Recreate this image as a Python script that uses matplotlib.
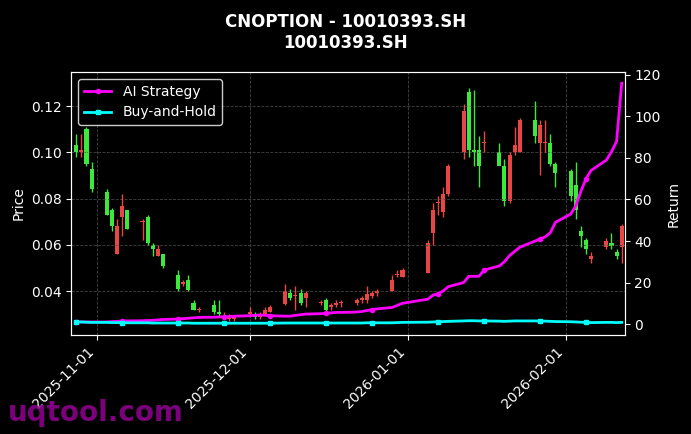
import numpy as np
import pandas as pd
import matplotlib
matplotlib.use("Agg")
import matplotlib.pyplot as plt
import matplotlib.dates as mdates

dates = ["2025-10-28", "2025-10-29", "2025-10-30", "2025-10-31",
         "2025-11-03", "2025-11-04", "2025-11-05", "2025-11-06", "2025-11-07",
         "2025-11-10", "2025-11-11", "2025-11-12", "2025-11-13", "2025-11-14",
         "2025-11-17", "2025-11-18", "2025-11-19", "2025-11-20", "2025-11-21",
         "2025-11-24", "2025-11-25", "2025-11-26", "2025-11-27", "2025-11-28",
         "2025-12-01", "2025-12-02", "2025-12-03", "2025-12-04", "2025-12-05",
         "2025-12-08", "2025-12-09", "2025-12-10", "2025-12-11", "2025-12-12",
         "2025-12-15", "2025-12-16", "2025-12-17", "2025-12-18", "2025-12-19",
         "2025-12-22", "2025-12-23", "2025-12-24", "2025-12-25", "2025-12-26",
         "2025-12-29", "2025-12-30", "2025-12-31",
         "2026-01-05", "2026-01-06", "2026-01-07", "2026-01-08", "2026-01-09",
         "2026-01-12", "2026-01-13", "2026-01-14", "2026-01-15", "2026-01-16",
         "2026-01-19", "2026-01-20", "2026-01-21", "2026-01-22", "2026-01-23",
         "2026-01-26", "2026-01-27", "2026-01-28", "2026-01-29", "2026-01-30",
         "2026-02-02", "2026-02-03", "2026-02-04", "2026-02-05", "2026-02-06",
         "2026-02-09", "2026-02-10", "2026-02-11", "2026-02-12"]

opens = [.103, .100, .110, .093, .083, .075, .056, .072, .075, .070, .072, .060, .055, .056,
         .047, .043, .045, .035, .032, .034, .031, .029, .028, .028,
         .030, .030, .029, .030, .031, .0345, .039, .038, .039, .037,
         .035, .036, .033, .034, .035, .035, .036, .036, .038, .039,
         .040, .047, .046,
         .048, .065, .078, .074, .082, .100, .126, .101, .101, .104,
         .100, .094, .079, .100, .100, .114, .104, .104, .104, .095,
         .092, .086, .066, .062, .054, .059, .061, .057, .059]
highs = [.108, .108, .111, .096, .084, .076, .071, .082, .075, .071, .073, .061, .060, .056,
         .049, .045, .047, .036, .033, .036, .036, .031, .030, .029,
         .033, .031, .031, .033, .034, .043, .041, .042, .041, .040,
         .036, .037, .035, .036, .036, .037, .038, .042, .040, .041,
         .047, .049, .050,
         .062, .078, .081, .085, .095, .121, .128, .127, .107, .109,
         .104, .097, .100, .111, .115, .122, .114, .114, .108, .096,
         .093, .096, .068, .063, .057, .063, .065, .058, .069]
lows = [.098, .098, .094, .083, .073, .066, .056, .064, .067, .062, .060, .055, .055, .050,
        .040, .042, .040, .032, .031, .030, .029, .028, .027, .027,
        .029, .028, .028, .030, .031, .034, .036, .032, .034, .033,
        .034, .030, .032, .033, .033, .034, .035, .035, .037, .038,
        .040, .046, .046,
        .048, .060, .073, .072, .081, .097, .098, .094, .085, .100,
        .095, .077, .078, .099, .100, .104, .090, .100, .094, .085,
        .079, .071, .059, .056, .052, .058, .058, .054, .052]
closes = [.100, .101, .095, .084, .073, .068, .068, .077, .067, .0705, .061, .058, .058, .051,
          .041, .044, .0405, .032, .0322, .031, .030, .029, .029, .029,
          .031, .029, .030, .032, .033, .040, .037, .0385, .035, .039,
          .035, .032, .034, .035, .0352, .036, .037, .0387, .039, .040,
          .045, .0472, .049,
          .061, .075, .0782, .082, .094, .118, .101, .100, .094, .1042,
          .094, .079, .099, .103, .114, .107, .112, .1042, .095, .091,
          .081, .075, .064, .058, .055, .0615, .0595, .055, .068]

strategy = [1, 1, 1, 1, 1, 1.2, 1.3, 1.4, 1.5, 1.6, 1.7, 1.8, 2, 2.2,
            2.4, 2.6, 2.8, 3, 3.2, 3.3, 3.4, 3.5, 3.6, 3.8,
            4, 4.2, 4.4, 4.2, 4, 3.8, 3.8, 4.2, 4.5, 4.8,
            5, 5.2, 5.4, 5.6, 5.6, 5.8, 6, 6.5, 7, 7.3,
            8, 9, 10,
            12, 14, 14.5, 16, 18, 20, 23, 23, 23, 26,
            28, 30, 33, 35, 37, 40, 41, 42, 44, 49,
            53, 57, 64, 70, 74, 79, 83, 88, 116]
buyhold = [1, 1, 0.9, 0.8, 0.8, 0.7, 0.7, 0.7, 0.6, 0.6, 0.6, 0.5, 0.5, 0.5,
           0.5, 0.5, 0.5, 0.4, 0.4, 0.4, 0.4, 0.4, 0.4, 0.4,
           0.4, 0.4, 0.4, 0.4, 0.4, 0.5, 0.5, 0.5, 0.5, 0.5,
           0.5, 0.5, 0.5, 0.5, 0.5, 0.5, 0.5, 0.6, 0.6, 0.6,
           0.6, 0.7, 0.8,
           0.9, 1.0, 1.1, 1.2, 1.3, 1.5, 1.6, 1.6, 1.5, 1.5,
           1.4, 1.3, 1.4, 1.5, 1.5, 1.5, 1.4, 1.4, 1.3, 1.2,
           1.1, 1.0, 0.9, 0.8, 0.7, 0.8, 0.8, 0.7, 0.8]

d = mdates.date2num(pd.to_datetime(dates))
o, h, l, c = map(np.array, (opens, highs, lows, closes))
up_col, dn_col = "#e84545", "#3de83d"

plt.style.use("dark_background")
fig = plt.figure(figsize=(6.91, 4.34), dpi=100)
ax = fig.add_axes([0.103, 0.228, 0.801, 0.606])
ax.set_facecolor("black")

# candles: red = close >= open, green = close < open
cols = np.where(c >= o, up_col, dn_col)
ax.vlines(d, l, h, colors=cols, linewidth=1)
body = np.maximum(np.abs(c - o), 0.0004)
ax.bar(d, body, bottom=np.minimum(o, c), width=0.8, color=cols)

ax.set_ylim(0.021, 0.1347)
ax.set_xlim(mdates.date2num(pd.Timestamp("2025-10-27")), mdates.date2num(pd.Timestamp("2026-02-12 14:00")))
ax.set_ylabel("Price")
ax.grid(True, linestyle="--", color="#444444", linewidth=0.6)
ax.xaxis.set_major_locator(mdates.MonthLocator())
ax.xaxis.set_major_formatter(mdates.DateFormatter("%Y-%m-%d"))
plt.setp(ax.get_xticklabels(), rotation=45, ha="right")

ax2 = ax.twinx()
ax2.plot(d, strategy, color="#ff00ff", linewidth=2, marker="o", markersize=3, markevery=7, label="AI Strategy")
ax2.plot(d, buyhold, color="#00ffff", linewidth=2, marker="s", markersize=3, markevery=7, label="Buy-and-Hold")
ax2.set_ylim(-5.3, 121.4)
ax2.set_ylabel("Return")
ax2.legend(loc="upper left", facecolor="black", edgecolor="white")

fig.suptitle("CNOPTION - 10010393.SH\n10010393.SH", fontweight="bold", fontsize=12, y=0.97)
fig.text(0.012, 0.03, "uqtool.com", color="#8b008b", fontsize=20, fontweight="bold", alpha=0.9)

fig.savefig("out.png", dpi=100, facecolor="black")
